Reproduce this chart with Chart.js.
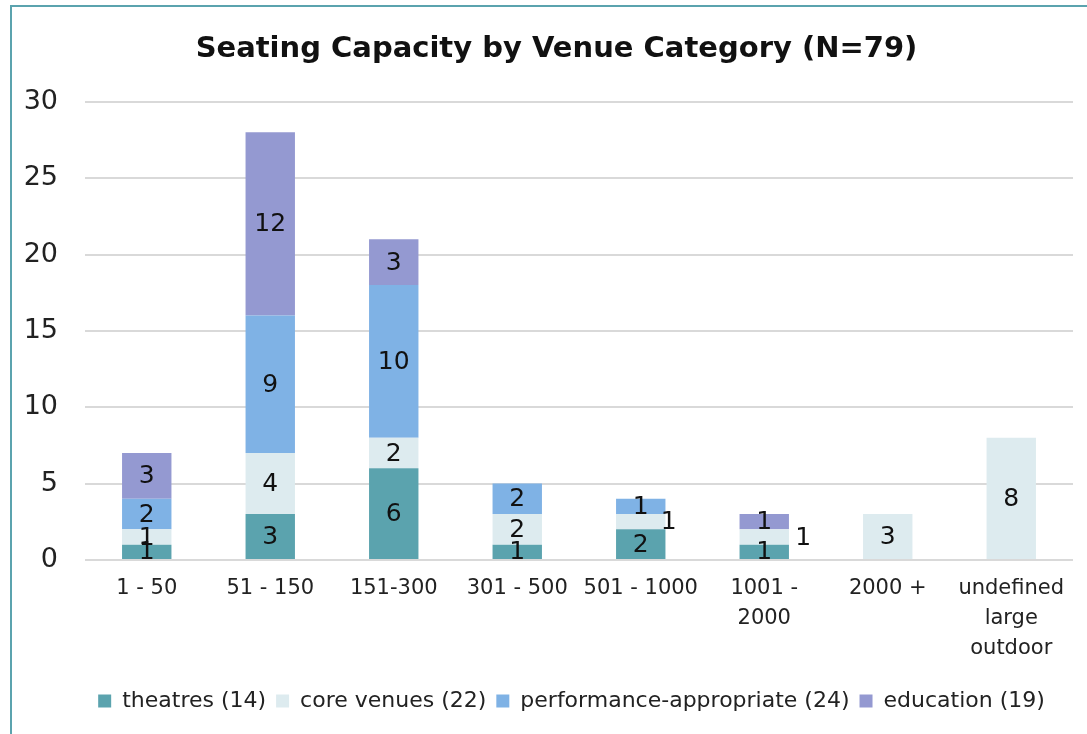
<!DOCTYPE html>
<html>
<head>
<meta charset="utf-8">
<script src="https://cdn.jsdelivr.net/npm/chart.js@4.4.0/dist/chart.umd.min.js"></script>
<style>
  html, body { margin: 0; padding: 0; background: #fff; overflow: hidden; }
  #box {
    position: absolute; left: 10px; top: 5px;
    width: 1100px; height: 760px;
    border-left: 2px solid #5ba3ae; border-top: 2px solid #5ba3ae;
  }
  #chartCanvas { position: absolute; left: 0; top: 0; }
</style>
</head>
<body>
<div id="box"><canvas id="chartCanvas" width="1075" height="727"></canvas></div>
<script>
var categorias = ["1 - 50", "51 - 150", "151-300", "301 - 500", "501 - 1000", ["1001 -", "2000"], "2000 +", ["undefined", "large", "outdoor"]];
var teatros = [1, 3, 6, 1, 2, 1, 0, 0];
var nucleo = [1, 4, 2, 2, 1, 1, 3, 8];
var actuacion = [2, 9, 10, 2, 1, 0, 0, 0];
var educacion = [3, 12, 3, 0, 0, 1, 0, 0];
var ticksY = [0, 5, 10, 15, 20, 25, 30];

var fuente = "'DejaVu Sans', sans-serif";

// etiquetas de valor dentro de cada segmento
var etiquetas = {
  id: "etiquetas",
  afterDatasetsDraw: function(chart) {
    var ctx = chart.ctx;
    ctx.save();
    ctx.font = "25px " + fuente;
    ctx.fillStyle = "#111";
    ctx.textAlign = "center";
    ctx.textBaseline = "middle";
    chart.data.datasets.forEach(function(ds, i) {
      var meta = chart.getDatasetMeta(i);
      meta.data.forEach(function(bar, j) {
        var v = ds.data[j];
        if (!v) return;
        var x = bar.x;
        // Excel empuja algunas etiquetas pequeñas fuera de la barra
        if (i === 1 && j === 4) x += 28;
        if (i === 1 && j === 5) x += 39;
        ctx.fillText(String(v), x, (bar.y + bar.base) / 2 + 1);
      });
    });
    ctx.restore();
  }
};

// centrar titulo y leyenda como en Excel (sobre el area del grafico)
var desplazar = {
  id: "desplazar",
  afterLayout: function(chart) {
    if (chart.legend) { chart.legend.left += 29; chart.legend.right += 29; }
    if (chart.titleBlock) { chart.titleBlock.left += 14; chart.titleBlock.right += 14; }
  }
};

var ctx = document.getElementById("chartCanvas").getContext("2d");

var myChart = new Chart(ctx, {
  type: "bar",
  data: {
    labels: categorias,
    datasets: [
      { label: "theatres (14)", data: teatros, backgroundColor: "#5ba3ae" },
      { label: "core venues (22)", data: nucleo, backgroundColor: "#ddebef" },
      { label: "performance-appropriate (24)", data: actuacion, backgroundColor: "#7fb2e5" },
      { label: "education (19)", data: educacion, backgroundColor: "#9499d1" }
    ]
  },
  options: {
    responsive: false,
    animation: false,
    layout: { padding: { left: 0, right: 14, top: 8, bottom: 12 } },
    datasets: { bar: { categoryPercentage: 1.0, barPercentage: 0.4 } },
    scales: {
      x: {
        stacked: true,
        grid: { display: false },
        border: { display: false },
        afterFit: function(axis) { axis.height += 10; },
        ticks: { color: "#222", font: { family: fuente, size: 21, lineHeight: 1.43 }, padding: 6, maxRotation: 0, autoSkip: false }
      },
      y: {
        stacked: true,
        min: 0,
        max: 30,
        afterBuildTicks: function(axis) { axis.ticks = ticksY.map(function(v) { return { value: v }; }); },
        afterFit: function(axis) { axis.width = 73; },
        grid: { color: "#d9d9d9", lineWidth: 2, drawTicks: false },
        border: { display: false },
        ticks: { color: "#222", font: { family: fuente, size: 27 }, padding: 27 }
      }
    },
    plugins: {
      title: {
        display: true,
        text: "Seating Capacity by Venue Category (N=79)",
        color: "#111",
        font: { family: fuente, size: 29, weight: "bold" },
        padding: { top: 17, bottom: 35 }
      },
      legend: {
        position: "bottom",
        labels: {
          color: "#222",
          font: { family: fuente, size: 22 },
          boxWidth: 13,
          boxHeight: 13,
          padding: 10
        }
      },
      tooltip: { enabled: false }
    }
  },
  plugins: [etiquetas, desplazar]
});
</script>
</body>
</html>
